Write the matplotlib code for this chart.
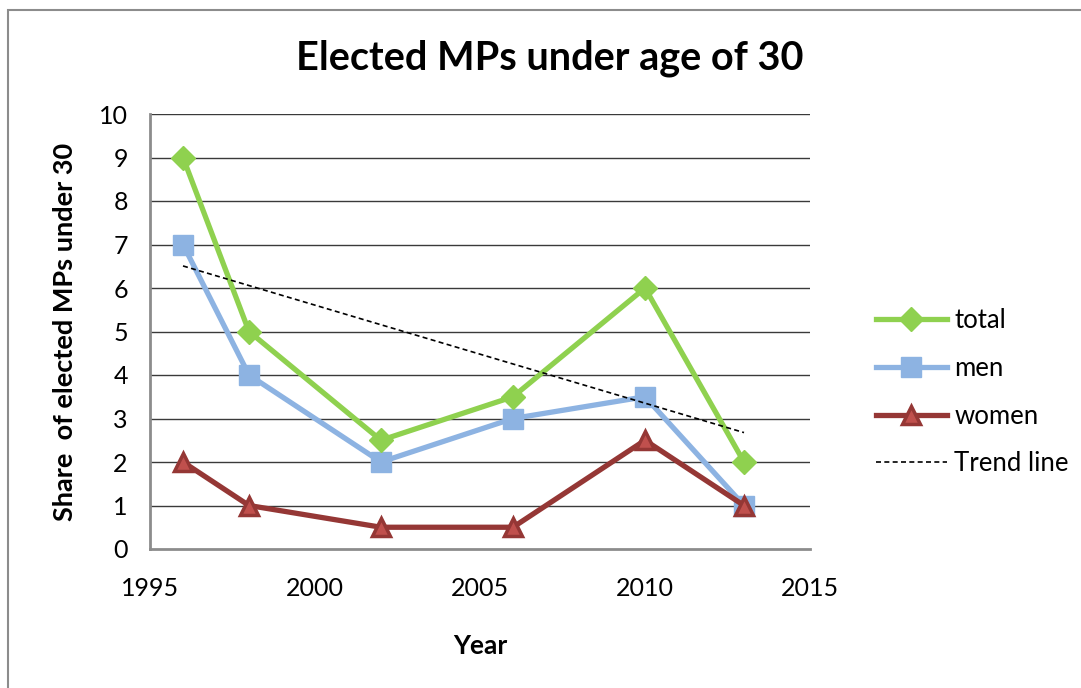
import numpy as np
import matplotlib
matplotlib.use("Agg")
import matplotlib.pyplot as plt
from matplotlib.patches import Rectangle

years = [1996, 1998, 2002, 2006, 2010, 2013]
total = [9, 5, 2.5, 3.5, 6, 2]
men = [7, 4, 2, 3, 3.5, 1]
women = [2, 1, 0.5, 0.5, 2.5, 1]

x_ticks = [1995, 2000, 2005, 2010, 2015]
y_ticks = list(range(0, 11))

plt.rcParams['font.family'] = ['Lato', 'DejaVu Sans']

fig = plt.figure(figsize=(10.81, 6.88), dpi=100)
fig.patch.set_facecolor('white')

# outer chart frame
fig.add_artist(Rectangle((8 / 1081, -0.05), 1.1, (688 - 10) / 688 + 0.05,
                         transform=fig.transFigure, fill=False,
                         edgecolor='#8c8c8c', lw=1.5))

ax = fig.add_axes([150 / 1081, (688 - 549) / 688, 660 / 1081, 435 / 688])

for y in y_ticks[1:]:
    ax.axhline(y, color='#3a3a3a', lw=1.0, zorder=1)

ax.plot(years, total, color='#8fd14f', lw=3.8, marker='D', markersize=12,
        markerfacecolor='#8fd14f', markeredgecolor='#8fd14f', label='total', zorder=4)
ax.plot(years, men, color='#8db3e2', lw=3.8, marker='s', markersize=14,
        markerfacecolor='#8db3e2', markeredgecolor='#8db3e2', label='men', zorder=3)
ax.plot(years, women, color='#953735', lw=3.8, marker='^', markersize=13,
        markerfacecolor='#c0504d', markeredgecolor='#953735', markeredgewidth=2.5,
        label='women', zorder=5)

# linear trend of the total share
coef = np.polyfit(years, total, 1)
trend_x = np.array([years[0], years[-1]])
ax.plot(trend_x, np.polyval(coef, trend_x), color='black', lw=1.2,
        linestyle=(0, (3, 2)), label='Trend line', zorder=6)

ax.set_xlim(1995, 2015)
ax.set_ylim(0, 10)
ax.set_xticks(x_ticks)
ax.set_yticks(y_ticks)
ax.tick_params(length=0, labelsize=18)
ax.tick_params(axis='y', pad=16)
ax.tick_params(axis='x', pad=20)
for side in ['left', 'bottom']:
    ax.spines[side].set_color('#8c8c8c')
    ax.spines[side].set_linewidth(2)
for side in ['top', 'right']:
    ax.spines[side].set_visible(False)

ax.set_xlabel('Year', fontsize=19, fontweight='bold', labelpad=25)
ax.set_ylabel('Share  of elected MPs under 30', fontsize=19.5, fontweight='bold', labelpad=16)
fig.text(550 / 1081, 1 - 58 / 688, 'Elected MPs under age of 30', ha='center', va='center',
         fontsize=28.5, fontweight='bold')

leg = ax.legend(loc='center left', bbox_to_anchor=(1.1, 0.36), frameon=False,
                borderpad=0, borderaxespad=0,
                fontsize=18.5, handlelength=2.75, labelspacing=0.88, handletextpad=0.3)

fig.savefig('out.png', dpi=100, facecolor='white')
